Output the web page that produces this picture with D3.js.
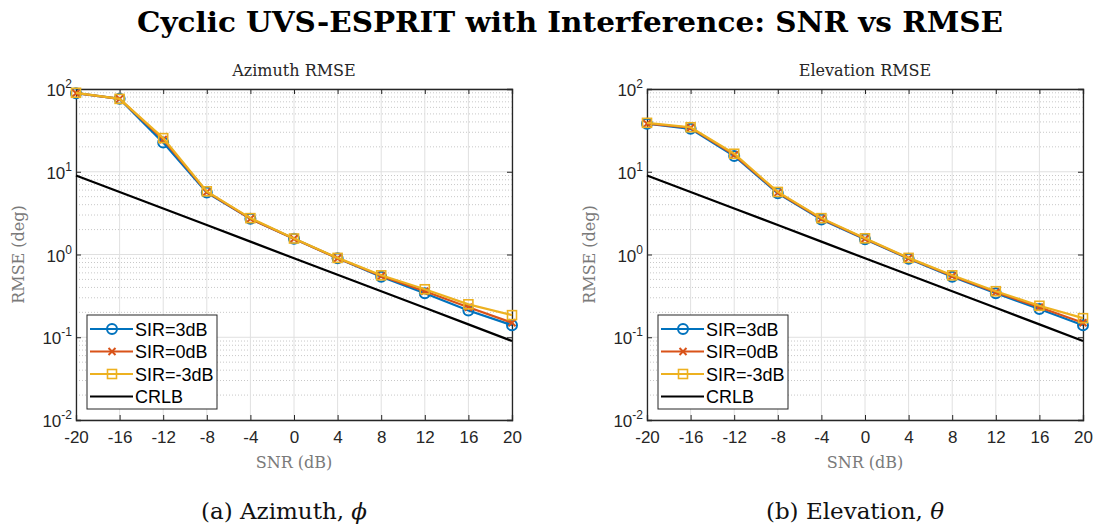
<!DOCTYPE html>
<html>
<head>
<meta charset="utf-8">
<script src="https://cdn.jsdelivr.net/npm/d3@7"></script>
<style>
  body { margin: 0; background: #fff; }
  .serif { font-family: "DejaVu Serif", "Liberation Serif", serif; }
</style>
</head>
<body>
<svg id="chart" width="1099" height="531"></svg>
<script>
// data
const snr = [-20, -16, -12, -8, -4, 0, 4, 8, 12, 16, 20];
const xTicks = [-20, -16, -12, -8, -4, 0, 4, 8, 12, 16, 20];
const yTicks = [0.01, 0.1, 1, 10, 100];

const azSir3  = [89, 76, 22.5, 5.6, 2.7, 1.55, 0.90, 0.54, 0.34, 0.21, 0.14];
const azSir0  = [89, 76, 24.5, 5.7, 2.7, 1.55, 0.90, 0.55, 0.36, 0.23, 0.15];
const azSirM3 = [90, 76, 25.5, 5.8, 2.75, 1.56, 0.91, 0.56, 0.38, 0.25, 0.185];
const azCrlb  = [9.0, 5.7, 3.6, 2.27, 1.43, 0.90, 0.57, 0.36, 0.227, 0.143, 0.09];

const elSir3  = [38, 33, 15.5, 5.5, 2.65, 1.53, 0.89, 0.54, 0.34, 0.22, 0.14];
const elSir0  = [38, 34, 16, 5.6, 2.7, 1.55, 0.90, 0.55, 0.35, 0.23, 0.15];
const elSirM3 = [39, 34.5, 16.5, 5.7, 2.75, 1.57, 0.91, 0.56, 0.36, 0.24, 0.17];
const elCrlb  = [9.0, 5.7, 3.6, 2.27, 1.43, 0.90, 0.57, 0.36, 0.227, 0.143, 0.09];

const names = ["SIR=3dB", "SIR=0dB", "SIR=-3dB", "CRLB"];
const colors = ["#0072BD", "#D95319", "#EDB120", "#000000"];
const markers = ["circle", "x", "square", null];

const sans = "Liberation Sans, Arial, sans-serif";
const svg = d3.select("#chart");

svg.append("text")
  .attr("class", "serif")
  .attr("x", 570).attr("y", 32)
  .attr("text-anchor", "middle")
  .attr("textLength", 866).attr("lengthAdjust", "spacingAndGlyphs")
  .style("font-size", "27px").style("font-weight", "bold")
  .text("Cyclic UVS-ESPRIT with Interference: SNR vs RMSE");

function drawPanel(opts) {
  const { left, right, top, bottom, title, caption, series } = opts;
  const x = d3.scaleLinear().domain([-20, 20]).range([left, right]);
  const y = d3.scaleLog().domain([0.01, 100]).range([bottom, top]);
  const g = svg.append("g");

  // minor grid
  const minor = [];
  for (let e = -2; e < 2; e++) for (let k = 2; k <= 9; k++) minor.push(k * Math.pow(10, e));
  g.selectAll(".minor").data(minor).enter().append("line")
    .attr("x1", left).attr("x2", right)
    .attr("y1", d => y(d)).attr("y2", d => y(d))
    .attr("stroke", "#c8c8c8").attr("stroke-width", 1).attr("stroke-dasharray", "1,2");
  // major grid
  g.selectAll(".gy").data(yTicks).enter().append("line")
    .attr("x1", left).attr("x2", right)
    .attr("y1", d => y(d)).attr("y2", d => y(d))
    .attr("stroke", "#e0e0e0").attr("stroke-width", 1);
  g.selectAll(".gx").data(xTicks).enter().append("line")
    .attr("x1", d => x(d)).attr("x2", d => x(d))
    .attr("y1", top).attr("y2", bottom)
    .attr("stroke", "#e0e0e0").attr("stroke-width", 1);

  // axes
  const xa = g.append("g").attr("transform", `translate(0,${bottom})`)
    .call(d3.axisBottom(x).tickValues(xTicks).tickSize(-5).tickPadding(11).tickFormat(d => String(d)));
  xa.selectAll(".tick text").style("font-family", sans).style("font-size", "17px").attr("fill", "#262626");
  const xt = g.append("g").attr("transform", `translate(0,${top})`)
    .call(d3.axisTop(x).tickValues(xTicks).tickSize(-5).tickFormat(""));
  const ya = g.append("g").attr("transform", `translate(${left},0)`)
    .call(d3.axisLeft(y).tickValues(yTicks).tickSize(-5).tickFormat(""));
  const yr = g.append("g").attr("transform", `translate(${right},0)`)
    .call(d3.axisRight(y).tickValues(yTicks).tickSize(-5).tickFormat(""));
  [xa, xt, ya, yr].forEach(a => {
    a.select(".domain").attr("stroke", "#262626").attr("stroke-width", 1.3);
    a.selectAll(".tick line").attr("stroke", "#262626");
  });
  // log tick labels 10^n
  yTicks.forEach(v => {
    const t = g.append("text")
      .attr("x", left - 4).attr("y", y(v) + 7)
      .attr("text-anchor", "end")
      .style("font-family", sans)
      .style("font-size", "17px").attr("fill", "#262626");
    t.append("tspan").text("10");
    t.append("tspan").attr("dy", -8).style("font-size", "12px").text(Math.round(Math.log10(v)));
  });

  // titles
  g.append("text").attr("class", "serif")
    .attr("x", (left + right) / 2).attr("y", top - 13)
    .attr("text-anchor", "middle").style("font-size", "16px").attr("fill", "#262626")
    .text(title);
  g.append("text").attr("class", "serif")
    .attr("x", (left + right) / 2).attr("y", bottom + 48)
    .attr("text-anchor", "middle").style("font-size", "16px").attr("fill", "#7a7a7a")
    .text("SNR (dB)");
  g.append("text").attr("class", "serif")
    .attr("transform", `translate(${left - 52},${(top + bottom) / 2}) rotate(-90)`)
    .attr("text-anchor", "middle").style("font-size", "16px").attr("fill", "#7a7a7a")
    .text("RMSE (deg)");
  const cap = g.append("text").attr("class", "serif")
    .attr("x", (left + right) / 2 - 10).attr("y", bottom + 99)
    .attr("text-anchor", "middle").style("font-size", "23px").attr("fill", "#111");
  cap.append("tspan").text(caption[0]);
  cap.append("tspan").style("font-style", "italic").text(caption[1]);

  const line = d3.line().x((d, i) => x(snr[i])).y(d => y(d));

  function marker(sel, type, color, cx, cy) {
    if (type === "circle") {
      sel.append("circle").attr("cx", cx).attr("cy", cy).attr("r", 5)
        .attr("fill", "none").attr("stroke", color).attr("stroke-width", 2);
    } else if (type === "x") {
      sel.append("path").attr("d", `M${cx - 3.5},${cy - 3.5}L${cx + 3.5},${cy + 3.5}M${cx - 3.5},${cy + 3.5}L${cx + 3.5},${cy - 3.5}`)
        .attr("stroke", color).attr("stroke-width", 2);
    } else if (type === "square") {
      sel.append("rect").attr("x", cx - 4.5).attr("y", cy - 4.5).attr("width", 9).attr("height", 9)
        .attr("fill", "none").attr("stroke", color).attr("stroke-width", 1.6);
    }
  }

  series.forEach((vals, s) => {
    g.append("path").datum(vals).attr("d", line)
      .attr("fill", "none").attr("stroke", colors[s]).attr("stroke-width", 2.2);
    if (markers[s]) vals.forEach((v, i) => marker(g, markers[s], colors[s], x(snr[i]), y(v)));
  });

  // legend
  const lx = left + 11, ly = bottom - 105;
  const lg = g.append("g");
  lg.append("rect").attr("x", lx).attr("y", ly).attr("width", 130).attr("height", 94)
    .attr("fill", "#fff").attr("stroke", "#262626").attr("stroke-width", 1);
  names.forEach((n, s) => {
    const cy = ly + 14 + s * 22.5;
    lg.append("line").attr("x1", lx + 3).attr("x2", lx + 46).attr("y1", cy).attr("y2", cy)
      .attr("stroke", colors[s]).attr("stroke-width", 2.2);
    if (markers[s]) marker(lg, markers[s], colors[s], lx + 25, cy);
    lg.append("text").attr("x", lx + 48).attr("y", cy + 6.5)
      .style("font-family", sans).style("font-size", "18px")
      .attr("fill", "#000").text(n);
  });
}

drawPanel({ left: 76, right: 512, top: 89, bottom: 420, title: "Azimuth RMSE",
  caption: ["(a) Azimuth, ", "\u03D5"], series: [azSir3, azSir0, azSirM3, azCrlb] });
drawPanel({ left: 647, right: 1083, top: 89, bottom: 420, title: "Elevation RMSE",
  caption: ["(b) Elevation, ", "\u03B8"], series: [elSir3, elSir0, elSirM3, elCrlb] });
</script>
</body>
</html>
